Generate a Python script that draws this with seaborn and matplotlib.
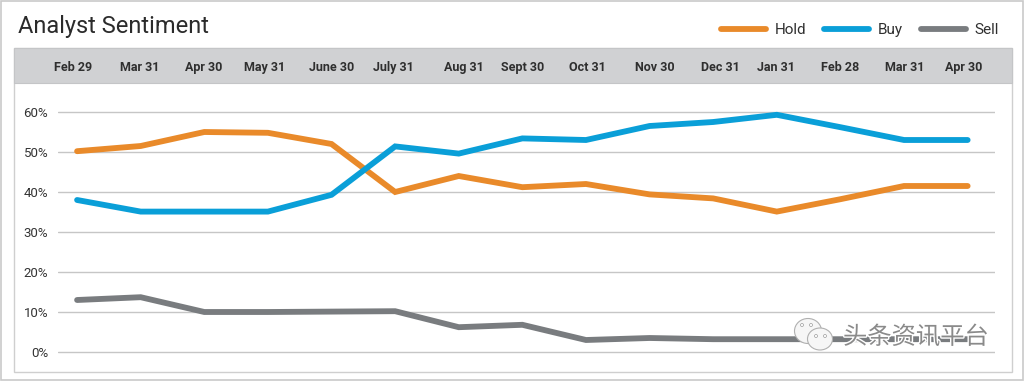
import matplotlib
matplotlib.use("Agg")
import matplotlib.pyplot as plt
import matplotlib.patheffects as pe
from matplotlib.patches import Rectangle, Ellipse
from matplotlib.transforms import ScaledTranslation
import pandas as pd
import seaborn as sns

# values
dates = ["Feb 29", "Mar 31", "Apr 30", "May 31", "June 30", "July 31", "Aug 31", "Sept 30",
         "Oct 31", "Nov 30", "Dec 31", "Jan 31", "Feb 28", "Mar 31", "Apr 30"]
hold = [50.2, 51.5, 55, 54.8, 52, 40, 44, 41.2, 42, 39.4, 38.4, 35.1, 38.2, 41.5, 41.5]
buy = [38, 35.1, 35.1, 35.1, 39.3, 51.4, 49.6, 53.4, 53, 56.5, 57.5, 59.3, 56.2, 53, 53]
sell = [13, 13.7, 10, 10, 10.1, 10.2, 6.2, 6.8, 3, 3.5, 3.2, 3.2, 3.2, 3.2, 3.2]
y_ticks = [0, 10, 20, 30, 40, 50, 60]

colors = {"Hold": "#e98a2a", "Buy": "#0a9fd8", "Sell": "#797c7f"}
# header labels are not quite centred over their points (pixels)
label_nudge = [-4, -1, -1, -3, 0, -2, 5, 0, 1, 5, 7, -1, 0, 1, -4]

W, H = 1024, 381

sns.set_theme(style="white")
plt.rcParams["font.family"] = ["Roboto", "DejaVu Sans"]

df = pd.DataFrame({"idx": range(len(dates)), "Hold": hold, "Buy": buy, "Sell": sell})
long = df.melt(id_vars="idx", var_name="rating", value_name="pct")

fig = plt.figure(figsize=(W / 100, H / 100), dpi=100, facecolor="white")


def box(x0, y0, x1, y1, **kw):
    # rectangle given in pixels from the top left of the picture
    fig.add_artist(Rectangle((x0 / W, 1 - y1 / H), (x1 - x0) / W, (y1 - y0) / H,
                             transform=fig.transFigure, **kw))


# outer frame, inner panel, grey header band
box(1, 1, 1023, 380, facecolor="white", edgecolor="#c9c9c9", linewidth=1.2)
box(14, 48, 1012, 372, facecolor="white", edgecolor="#cfcfcf", linewidth=1.0)
box(14, 48, 1012, 83, facecolor="#d0d1d3", edgecolor="#c4c5c7", linewidth=0.8)

ax = fig.add_axes([58 / W, 1 - 371 / H, (995 - 58) / W, (371 - 83) / H], zorder=3)
ax.patch.set_alpha(0)

sns.lineplot(data=long, x="idx", y="pct", hue="rating", palette=colors, ax=ax,
             linewidth=4.2, estimator=None, sort=False, solid_capstyle="round",
             solid_joinstyle="miter", zorder=3)

ax.set_xlim(-0.30, 14.43)
ax.set_ylim(-4.75, 67.25)
ax.set_xlabel("")
ax.set_ylabel("")
sns.despine(ax=ax, left=True, bottom=True)

ax.set_yticks(y_ticks)
ax.set_yticklabels([f"{v}%" for v in y_ticks], fontsize=9.5, color="#333333")
ax.yaxis.grid(True, color="#c6c6c6", linewidth=1.0)
ax.set_axisbelow(True)
ax.tick_params(axis="y", length=0, pad=7)

ax.xaxis.tick_top()
ax.set_xticks(range(len(dates)))
ax.set_xticklabels(dates, fontsize=9, fontweight="bold", color="#2f2f2f")
ax.tick_params(axis="x", length=0, pad=6.5)
for lab, dx in zip(ax.get_xticklabels(), label_nudge):
    lab.set_transform(lab.get_transform() + ScaledTranslation(dx / 100, 0, fig.dpi_scale_trans))

handles, labels = ax.get_legend_handles_labels()
ax.legend_.remove()
leg = fig.legend(handles, labels, loc="center right", ncol=3, frameon=False,
                 bbox_to_anchor=(999 / W, 1 - 30 / H), bbox_transform=fig.transFigure,
                 fontsize=11, handlelength=2.95, handletextpad=0.55, columnspacing=1.2,
                 borderpad=0, borderaxespad=0)
for t in leg.get_texts():
    t.set_color("#2f2f2f")
for line in leg.get_lines():
    line.set_linewidth(4.2)
    line.set_solid_capstyle("round")

fig.text(18 / W, 1 - 27 / H, "Analyst Sentiment", fontsize=17, color="#2b2b2b",
         ha="left", va="center")

# watermark over the lower right corner
for cx, cy, w, h in [(808, 331, 27, 25), (820, 339, 25, 22)]:
    fig.add_artist(Ellipse((cx / W, 1 - cy / H), w / W, h / H, transform=fig.transFigure,
                           facecolor="#f6f6f6", edgecolor="#b0b0b0", linewidth=0.8, zorder=5))
for cx, cy in [(802, 325), (811, 325), (816, 336), (825, 336)]:
    fig.add_artist(Ellipse((cx / W, 1 - cy / H), 3 / W, 3 / H, transform=fig.transFigure,
                           facecolor="white", edgecolor="#9a9a9a", linewidth=0.5, zorder=6))
fig.text(843 / W, 1 - 337 / H, "头条资讯平台", fontsize=17.5, color="#8a8a8a",
         family=["Noto Sans CJK SC", "DejaVu Sans"], ha="left", va="center", zorder=6,
         path_effects=[pe.withStroke(linewidth=2, foreground="white")])

fig.savefig("out.png", dpi=100)
